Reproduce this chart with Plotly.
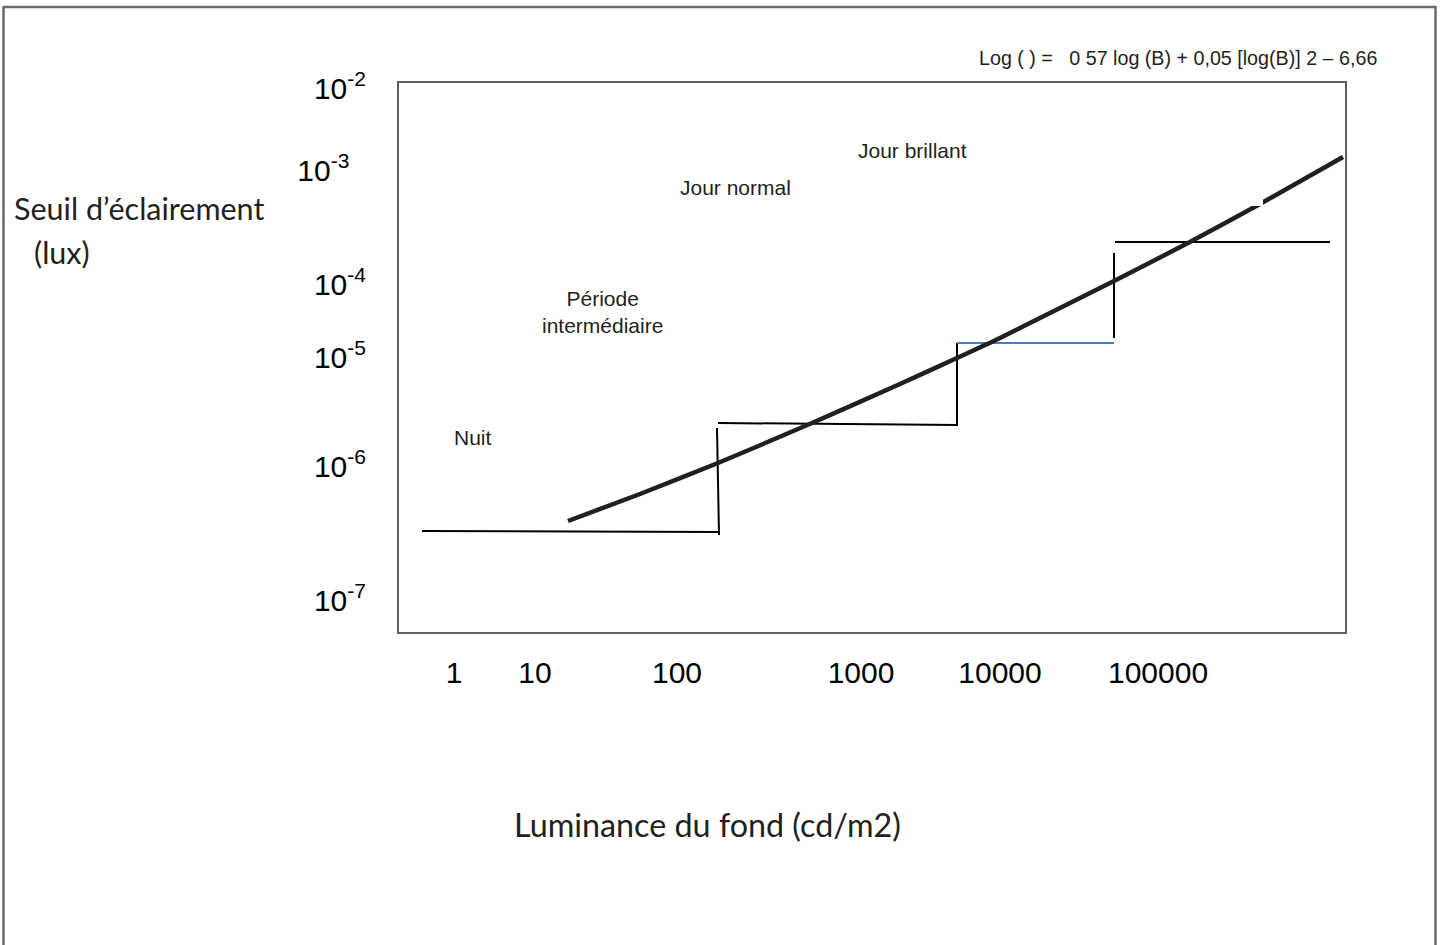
import plotly.graph_objects as go

# ---- schematic chart data (positions on the drawing's schematic scale) ----
# frame spans 0..946 horizontally and 0..549 vertically
X_RANGE = [0, 946]
Y_RANGE = [0, 549]

x_tick_pos = [55, 136, 278, 462, 601, 759]
x_tick_labels = ["1", "10", "100", "1000", "10000", "100000"]

y_tick_pos = [544, 462, 348, 275, 166, 32]
y_tick_labels = ["10<sup>-2</sup>", "10<sup>-3</sup>\u00a0\u00a0", "10<sup>-4</sup>",
                 "10<sup>-5</sup>", "10<sup>-6</sup>", "10<sup>-7</sup>"]

# threshold curve
curve_x = [169, 241, 319, 413, 501, 558, 601, 651, 715, 789, 861, 944]
curve_y = [111, 138, 169, 209, 248, 274, 294, 319, 351, 389, 428, 475]

# step levels (black segments)
step_x = [23, 320, None, 318, 320, None, 319, 559, None, 558, 558, None, 715, 715, None, 716, 931]
step_y = [101, 100, None, 204, 97, None, 209, 207, None, 289, 207, None, 379, 294, None, 390, 390]

# blue step segment
blue_x = [558, 715]
blue_y = [289, 289]

# labels inside the frame
region_labels = ["Nuit", "Période<br>intermédiaire", "Jour normal", "Jour brillant"]
region_x = [74, 203, 336, 513]
region_y = [195, 320, 445, 482]

formula_text = "Log ( ) =\u00a0\u00a0\u00a00 57 log (B) + 0,05 [log(B)] 2 – 6,66"
y_title_lines = ["Seuil d’éclairement", "(lux)"]
x_title = "Luminance du fond (cd/m2)"

W, H = 1441, 945
ML, MR, MT, MB = 399, 96, 83, 313

ARIAL = "Liberation Sans, Arial, sans-serif"
CALIBRI = "Lato, Carlito, Calibri, sans-serif"

pw, ph = W - ML - MR, H - MT - MB
def px2paper_x(px):
    return (px - ML) / pw
def px2paper_y(py):
    return (H - MB - py) / ph

fig = go.Figure()
fig.add_trace(go.Scatter(x=step_x, y=step_y, mode="lines",
                         line=dict(color="#000000", width=2), hoverinfo="skip",
                         showlegend=False))
fig.add_trace(go.Scatter(x=blue_x, y=blue_y, mode="lines",
                         line=dict(color="#4a7dbf", width=2.2), hoverinfo="skip",
                         showlegend=False))
fig.add_trace(go.Scatter(x=curve_x, y=curve_y, mode="lines",
                         line=dict(color="#231f20", width=4.5, shape="spline", smoothing=0.6),
                         hoverinfo="skip", showlegend=False))

ann = []
for t, x, y in zip(region_labels, region_x, region_y):
    ann.append(dict(x=x, y=y, xref="x", yref="y", text=t, showarrow=False,
                    font=dict(family=ARIAL, size=21, color="#231f20"),
                    xanchor="center", yanchor="middle", align="center"))
ann.append(dict(x=px2paper_x(1178), y=px2paper_y(58), xref="paper", yref="paper",
                text=formula_text, showarrow=False,
                font=dict(family=ARIAL, size=19.7, color="#231f20"),
                xanchor="center", yanchor="middle"))
ann.append(dict(x=px2paper_x(12), y=px2paper_y(208), xref="paper", yref="paper",
                text=y_title_lines[0], showarrow=False,
                font=dict(family=CALIBRI, size=30.5, color="#231f20"),
                xanchor="left", yanchor="middle"))
ann.append(dict(x=px2paper_x(32), y=px2paper_y(252), xref="paper", yref="paper",
                text=y_title_lines[1], showarrow=False,
                font=dict(family=CALIBRI, size=30.5, color="#231f20"),
                xanchor="left", yanchor="middle"))
ann.append(dict(x=px2paper_x(512), y=px2paper_y(825), xref="paper", yref="paper",
                text=x_title, showarrow=False,
                font=dict(family=CALIBRI, size=32.3, color="#231f20"),
                xanchor="left", yanchor="middle"))

shapes = [
    # outer picture border (left, top, right)
    dict(type="line", xref="paper", yref="paper",
         x0=px2paper_x(3.5), x1=px2paper_x(3.5), y0=px2paper_y(6), y1=px2paper_y(950),
         line=dict(color="#6a6a6a", width=2.5)),
    dict(type="line", xref="paper", yref="paper",
         x0=px2paper_x(3.5), x1=px2paper_x(1435.5), y0=px2paper_y(7), y1=px2paper_y(7),
         line=dict(color="#6a6a6a", width=2.5)),
    dict(type="line", xref="paper", yref="paper",
         x0=px2paper_x(1435.5), x1=px2paper_x(1435.5), y0=px2paper_y(6), y1=px2paper_y(950),
         line=dict(color="#6a6a6a", width=2.5)),
    # small white gap on the curve
    dict(type="rect", xref="x", yref="y", x0=851, x1=864, y0=426, y1=435,
         fillcolor="white", line=dict(width=0), layer="above"),
]

fig.update_layout(
    width=W, height=H,
    margin=dict(l=ML, r=MR, t=MT, b=MB, pad=0),
    plot_bgcolor="white", paper_bgcolor="white",
    annotations=ann, shapes=shapes, showlegend=False,
    xaxis=dict(range=X_RANGE, showgrid=False, zeroline=False,
               showline=True, mirror=True, linecolor="#5f5f5f", linewidth=2,
               ticks="", tickvals=x_tick_pos, ticktext=x_tick_labels,
               tickfont=dict(family=ARIAL, size=30, color="#000000"),
               ticklabelstandoff=13, fixedrange=True),
    yaxis=dict(range=Y_RANGE, showgrid=False, zeroline=False,
               showline=True, mirror=True, linecolor="#5f5f5f", linewidth=2,
               ticks="", tickvals=y_tick_pos, ticktext=y_tick_labels,
               tickfont=dict(family=ARIAL, size=30, color="#000000"),
               ticklabelstandoff=25, fixedrange=True),
)

fig.write_html("out.html", config={"displayModeBar": False},
               post_script="document.body.style.margin='0';document.body.style.overflow='hidden';")
